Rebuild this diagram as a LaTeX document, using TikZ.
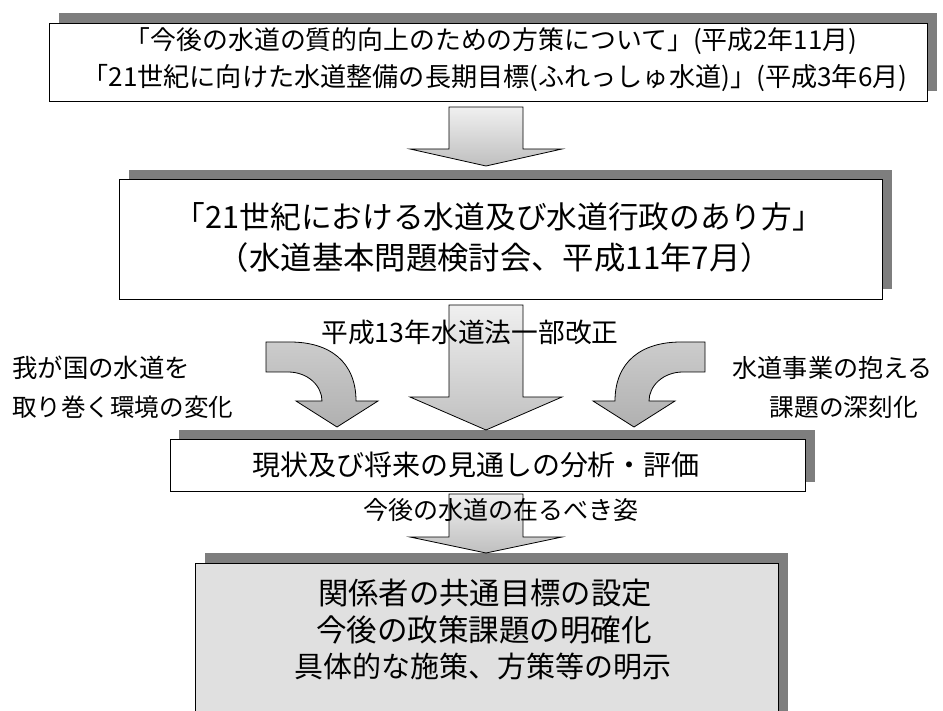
\documentclass[tikz,border=0pt]{standalone}
\usepackage{fontspec}
\setmainfont{Noto Sans CJK JP}
\usetikzlibrary{calc}
\definecolor{shadowgray}{HTML}{7E7E7E}
\definecolor{lightfill}{HTML}{E0E0E0}
\tikzset{
  shadowbox/.style={fill=shadowgray, draw=none},
  framebox/.style={draw=black, line width=1pt, fill=white, inner sep=0pt, anchor=north west},
  greybox/.style={framebox, fill=lightfill},
  txt/.style={inner sep=0pt, anchor=center, text=black},
  arrowfill/.style={draw=black, line width=0.8pt, top color=gray!12, bottom color=gray!50},
  curvefill/.style={draw=black, line width=0.8pt, top color=gray!40, bottom color=gray!62},
}
\newcommand{\fitw}[2]{\resizebox{#1pt}{!}{#2}}
\newcommand{\blockarr}[5]{%
  \path[arrowfill] ($(#1)+(-#3,0)$) -- ($(#1)+(#3,0)$) -- ($(#2)+(#3,-#5)$) -- ($(#2)+(#4,-#5)$) -- (#2) -- ($(#2)+(-#4,-#5)$) -- ($(#2)+(-#3,-#5)$) -- cycle;}
\newcommand{\curvearr}{%
  \path[curvefill] (266,342) -- (290,342) .. controls (330,342) and (356,362) .. (356,401)
  -- (378,401) -- (337,427) -- (296,401) -- (322,401)
  .. controls (322,386) and (308,372) .. (288,372) -- (266,372) -- cycle;}
\begin{document}
\begin{tikzpicture}[x=1pt,y=-1pt]
\useasboundingbox (0,0) rectangle (943,711);
% ---------- box 1
\fill[shadowbox] (59,13) rectangle (937,91);
\node[framebox, minimum width=878pt, minimum height=78pt] (b1) at (49,23) {};
\node[txt] (b1l1) at (491,41) {\fitw{732}{「今後の水道の質的向上のための方策について」(平成2年11月)}};
\node[txt] (b1l2) at (495,78) {\fitw{825}{「21世紀に向けた水道整備の長期目標(ふれっしゅ水道)」(平成3年6月)}};
% ---------- box 2
\fill[shadowbox] (129,170) rectangle (892,289);
\node[framebox, minimum width=763pt, minimum height=120pt] (b2) at (119,179) {};
\node[txt] (b2l1) at (499,217) {\fitw{648}{「21世紀における水道及び水道行政のあり方」}};
\node[txt] (b2l2) at (495,258) {\fitw{554}{（水道基本問題検討会、平成11年7月）}};
% ---------- box 3
\fill[shadowbox] (179,430) rectangle (815,482);
\node[framebox, minimum width=635pt, minimum height=52pt] (b3) at (170,439) {};
% ---------- box 4
\fill[shadowbox] (205,553) rectangle (788,730);
\node[greybox, minimum width=583pt, minimum height=170pt] (b4) at (195,563) {};
% ---------- straight block arrows
\coordinate (a1top) at (486,107);
\coordinate (a1tip) at (486,166);
\blockarr{a1top}{a1tip}{37}{76}{17}
\coordinate (a2top) at (486,305);
\coordinate (a2tip) at (486,430);
\blockarr{a2top}{a2tip}{37}{76}{33}
\coordinate (a3top) at (486,494);
\coordinate (a3tip) at (486,553);
\blockarr{a3top}{a3tip}{37}{76}{16}
% ---------- curved arrows
\curvearr
\begin{scope}[xshift=971pt, xscale=-1]
\curvearr
\end{scope}
% ---------- texts
\node[txt] (b3t) at (476,465) {\fitw{448}{現状及び将来の見通しの分析・評価}};
\node[txt] (mid) at (470,332) {\fitw{297}{平成13年水道法一部改正}};
\node[txt, anchor=west] (lt1) at (12,368) {\fitw{178}{我が国の水道を}};
\node[txt, anchor=west] (lt2) at (12,407) {\fitw{221}{取り巻く環境の変化}};
\node[txt, anchor=east] (rt1) at (933,368) {\fitw{200}{水道事業の抱える}};
\node[txt, anchor=east] (rt2) at (918,407) {\fitw{148}{課題の深刻化}};
\node[txt] (a3t) at (501,510) {\fitw{275}{今後の水道の在るべき姿}};
\node[txt] (b4l1) at (485,593) {\fitw{334}{関係者の共通目標の設定}};
\node[txt] (b4l2) at (484,630) {\fitw{336}{今後の政策課題の明確化}};
\node[txt] (b4l3) at (483,667) {\fitw{377}{具体的な施策、方策等の明示}};
\end{tikzpicture}
\end{document}
